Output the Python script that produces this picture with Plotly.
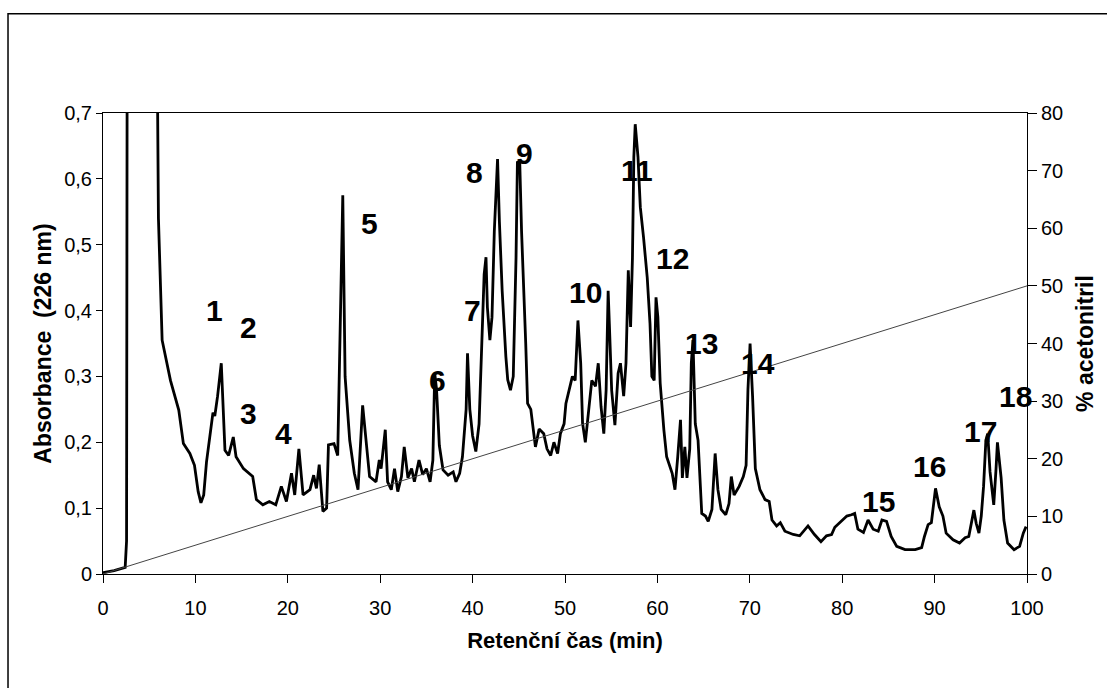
import plotly.graph_objects as go

# Chromatogram: retention time (min) and absorbance at 226 nm
time_min = [0, 1.2, 2.4, 2.55, 2.65, 4.0, 5.7, 5.9, 6.0, 6.4, 7.3, 8.2, 8.7, 9.4, 9.9, 10.3, 10.6, 10.9,
            11.2, 11.9, 12.1, 12.4, 12.8, 13.2, 13.6, 14.1, 14.4, 15.2, 16.2, 16.6, 17.3, 18.0, 18.7,
            19.3, 19.85, 20.4, 20.75, 21.2, 21.65, 22.4, 22.8, 23.1, 23.4, 23.8, 24.2, 24.4, 25.0,
            25.4, 25.75, 25.95, 26.2, 26.7, 27.2, 27.6, 28.1, 28.5, 28.85, 29.55, 29.9, 30.1, 30.55,
            30.8, 31.2, 31.55, 31.9, 32.3, 32.6, 33.0, 33.4, 33.7, 34.2, 34.6, 35.0, 35.4, 35.7,
            35.9, 36.1, 36.4, 36.8, 37.35, 37.9, 38.2, 38.6, 38.9, 39.1, 39.3, 39.45, 39.7, 40.0,
            40.35, 40.7, 41.07, 41.25, 41.45, 41.6, 41.87, 42.1, 42.35, 42.7, 42.9, 43.2, 43.6,
            43.8, 44.1, 44.4, 44.7, 44.85, 45.1, 45.3, 45.75, 45.95, 46.3, 46.5, 46.8, 47.2, 47.7,
            48.05, 48.45, 48.8, 49.2, 49.5, 49.9, 50.1, 50.8, 51.1, 51.4, 51.7, 51.9, 52.2, 52.6,
            52.9, 53.3, 53.6, 53.9, 54.2, 54.45, 54.67, 54.8, 55.05, 55.4, 55.75, 56.0, 56.35, 56.6,
            56.85, 57.1, 57.3, 57.45, 57.6, 57.9, 58.15, 58.5, 58.9, 59.2, 59.4, 59.65, 59.85,
            60.05, 60.3, 60.7, 61.0, 61.6, 61.9, 62.2, 62.5, 62.7, 62.97, 63.2, 63.5, 63.67, 63.85,
            64.1, 64.4, 64.8, 65.2, 65.5, 65.9, 66.25, 66.55, 66.9, 67.4, 67.75, 68.0, 68.3, 68.85,
            69.3, 69.6, 69.8, 70.03, 70.3, 70.6, 71.1, 71.65, 72.1, 72.4, 72.9, 73.3, 73.8, 74.7,
            75.4, 76.3, 77.0, 77.7, 78.3, 78.85, 79.2, 79.9, 80.5, 81.0, 81.35, 81.7, 82.3, 82.8,
            83.35, 83.9, 84.3, 84.8, 85.3, 85.9, 86.8, 87.9, 88.6, 88.9, 89.3, 89.65, 90.1, 90.5,
            90.9, 91.25, 92.0, 92.7, 93.3, 93.7, 93.95, 94.25, 94.5, 94.8, 95.05, 95.3, 95.55,
            95.75, 96.0, 96.4, 96.65, 96.8, 97.2, 97.5, 97.9, 98.6, 99.2, 99.6, 99.9]
absorbance = [0.002, 0.005, 0.01, 0.05, 1.2, 1.6, 1.1, 0.72, 0.54, 0.355, 0.294, 0.249, 0.198, 0.183,
              0.165, 0.125, 0.108, 0.12, 0.17, 0.245, 0.24, 0.27, 0.32, 0.188, 0.18, 0.208, 0.178,
              0.16, 0.148, 0.113, 0.105, 0.11, 0.105, 0.133, 0.11, 0.153, 0.12, 0.19, 0.12, 0.128,
              0.15, 0.13, 0.166, 0.095, 0.1, 0.196, 0.198, 0.18, 0.45, 0.575, 0.3, 0.203, 0.153,
              0.128, 0.256, 0.195, 0.148, 0.14, 0.173, 0.16, 0.219, 0.14, 0.128, 0.16, 0.125, 0.148,
              0.193, 0.146, 0.16, 0.14, 0.173, 0.151, 0.16, 0.14, 0.173, 0.305, 0.28, 0.195, 0.158,
              0.15, 0.155, 0.14, 0.153, 0.178, 0.219, 0.25, 0.335, 0.25, 0.21, 0.186, 0.228, 0.38,
              0.455, 0.481, 0.405, 0.355, 0.39, 0.52, 0.63, 0.535, 0.43, 0.33, 0.295, 0.279, 0.30,
              0.48, 0.625, 0.627, 0.52, 0.35, 0.259, 0.25, 0.228, 0.193, 0.22, 0.213, 0.19, 0.18,
              0.2, 0.183, 0.213, 0.228, 0.259, 0.30, 0.294, 0.385, 0.32, 0.229, 0.2, 0.254, 0.294,
              0.285, 0.32, 0.254, 0.213, 0.279, 0.43, 0.38, 0.279, 0.226, 0.305, 0.32, 0.27, 0.32,
              0.461, 0.375, 0.48, 0.633, 0.683, 0.633, 0.557, 0.511, 0.45, 0.38, 0.30, 0.294, 0.42,
              0.39, 0.29, 0.219, 0.178, 0.153, 0.128, 0.178, 0.234, 0.146, 0.193, 0.146, 0.19, 0.32,
              0.355, 0.228, 0.203, 0.092, 0.088, 0.08, 0.098, 0.183, 0.128, 0.098, 0.09, 0.107,
              0.148, 0.12, 0.133, 0.148, 0.165, 0.28, 0.35, 0.27, 0.16, 0.128, 0.113, 0.11, 0.082,
              0.073, 0.078, 0.065, 0.06, 0.058, 0.073, 0.06, 0.049, 0.058, 0.06, 0.071, 0.08, 0.088,
              0.09, 0.092, 0.068, 0.063, 0.082, 0.068, 0.065, 0.082, 0.08, 0.057, 0.042, 0.037,
              0.037, 0.04, 0.057, 0.075, 0.078, 0.13, 0.102, 0.088, 0.062, 0.052, 0.047, 0.055,
              0.057, 0.077, 0.097, 0.077, 0.062, 0.088, 0.133, 0.203, 0.213, 0.155, 0.105, 0.16,
              0.2, 0.146, 0.082, 0.047, 0.037, 0.042, 0.062, 0.072]

# Acetonitrile gradient (%)
gradient_time = [0, 100]
gradient_pct = [0, 50]

# Peak labels
peak_labels = ["1", "2", "3", "4", "5", "6", "7", "8", "9", "10", "11", "12", "13", "14", "15", "16", "17", "18"]
peak_label_t = [12.1, 15.7, 15.7, 19.5, 28.85, 36.2, 40.0, 40.2, 45.6, 52.2, 57.8, 61.6, 64.8, 70.9, 83.9, 89.5, 95.0, 98.8]
peak_label_a = [0.40, 0.375, 0.244, 0.214, 0.532, 0.294, 0.40, 0.61, 0.638, 0.428, 0.613, 0.479, 0.35, 0.32, 0.11, 0.163, 0.216, 0.269]

# Axis ticks
x_ticks = [0, 10, 20, 30, 40, 50, 60, 70, 80, 90, 100]
y_ticks = [0, 0.1, 0.2, 0.3, 0.4, 0.5, 0.6, 0.7]
y_tick_text = ["0", "0,1", "0,2", "0,3", "0,4", "0,5", "0,6", "0,7"]
y2_ticks = [0, 10, 20, 30, 40, 50, 60, 70, 80]

FONT = "Liberation Sans, Arial, sans-serif"

fig = go.Figure()
fig.add_trace(go.Scatter(x=time_min, y=absorbance, mode="lines",
                         line=dict(color="black", width=2.8), yaxis="y", showlegend=False))
fig.add_trace(go.Scatter(x=gradient_time, y=gradient_pct, mode="lines",
                         line=dict(color="#444444", width=1), yaxis="y2", showlegend=False))

for txt, tx, ty in zip(peak_labels, peak_label_t, peak_label_a):
    fig.add_annotation(x=tx, y=ty, xref="x", yref="y", text="<b>%s</b>" % txt, showarrow=False,
                       font=dict(family=FONT, size=30, color="black"),
                       xanchor="center", yanchor="middle")

fig.add_shape(type="rect", xref="paper", yref="paper", x0=-0.1028, x1=1.2, y0=-0.4, y1=1.2153,
              line=dict(color="black", width=1.5), layer="above")

def axis_style(ticklen):
    return dict(showgrid=False, zeroline=False, showline=True, linecolor="black", linewidth=1,
                ticks="outside", ticklen=ticklen, tickcolor="black",
                tickfont=dict(family=FONT, size=20, color="black"))

fig.update_layout(
    width=1107, height=688,
    margin=dict(l=103, r=80, t=113, b=114),
    paper_bgcolor="white", plot_bgcolor="white",
    showlegend=False,
    xaxis=dict(range=[0, 100], tickvals=x_ticks, mirror=True, ticklabelstandoff=8,
               title=dict(text="<b>Retenční čas (min)</b>", font=dict(family=FONT, size=22, color="black"),
                          standoff=14),
               **axis_style(8)),
    yaxis=dict(range=[0, 0.7], tickvals=y_ticks, ticktext=y_tick_text,
               title=dict(text="<b>Absorbance  (226 nm)</b>", font=dict(family=FONT, size=23, color="black"),
                          standoff=6),
               **axis_style(6)),
    yaxis2=dict(range=[0, 80], tickvals=y2_ticks, overlaying="y", side="right", anchor="x",
                title=dict(text="<b>% acetonitril</b>", font=dict(family=FONT, size=23, color="black"),
                           standoff=14),
                **axis_style(9)),
    # inward half of the cross-shaped ticks on the right-hand axis
    yaxis3=dict(range=[0, 80], tickvals=y2_ticks, overlaying="y", side="right", anchor="x",
                showgrid=False, zeroline=False, showline=False, showticklabels=False,
                ticks="inside", ticklen=7, tickcolor="black"),
)

fig.write_html("out.html")
